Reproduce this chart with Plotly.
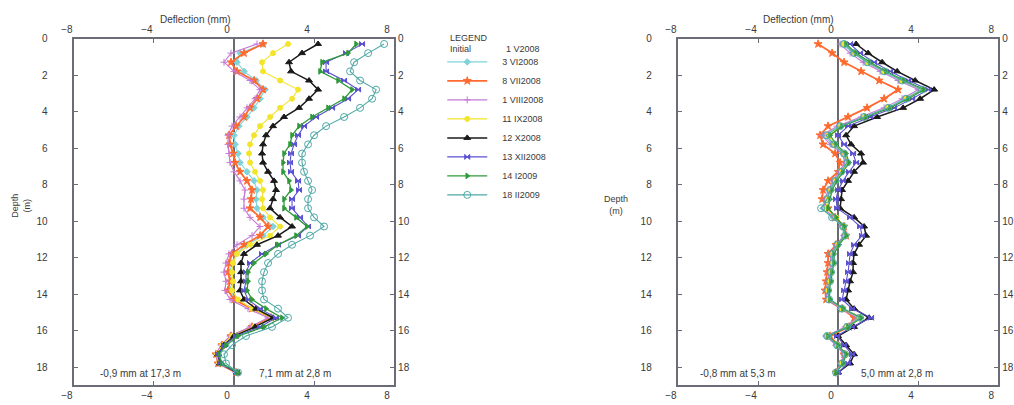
import plotly.graph_objects as go

# Depth of each reading (m)
depth = [0.3, 0.8, 1.3, 1.8, 2.3, 2.8, 3.3, 3.8, 4.3, 4.8, 5.3, 5.8, 6.3, 6.8, 7.3, 7.8,
         8.3, 8.8, 9.3, 9.8, 10.3, 10.8, 11.3, 11.8, 12.3, 12.8, 13.3, 13.8, 14.3, 14.8,
         15.3, 15.8, 16.3, 16.8, 17.3, 17.8, 18.3]

series_names = ["3 VI2008", "8 VII2008", "1 VIII2008", "11 IX2008", "12 X2008",
                "13 XII2008", "14 I2009", "18 II2009"]

# ---- Left inclinometer: deflection (mm) ----
left_3VI2008 = [1.45, 0.3, 0.15, 0.5, 1.1, 1.55, 1.3, 1.0, 0.65, 0.25, 0.0, 0.05, 0.2, 0.3, 0.65, 1.0,
                1.15, 1.1, 1.15, 1.45, 1.95, 1.45, 0.65, 0.1, -0.1, -0.2, -0.1, -0.2, 0.1, 0.9,
                1.8, 1.0, -0.1, -0.5, -0.8, -0.7, 0.1]
left_8VII2008 = [1.45, 0.5, -0.15, 0.15, 1.0, 1.45, 1.15, 0.8, 0.5, 0.1, -0.25, -0.2, -0.05, 0.05, 0.3, 0.65,
                 0.9, 0.85, 0.8, 1.3, 1.7, 1.3, 0.5, -0.1, -0.25, -0.3, -0.2, -0.3, 0.0, 0.9,
                 1.85, 0.9, -0.15, -0.6, -0.9, -0.8, 0.1]
left_1VIII2008 = [1.15, -0.15, -0.5, 0.0, 0.8, 1.3, 1.05, 0.65, 0.3, -0.1, -0.3, -0.3, -0.25, -0.2, 0.0, 0.3,
                  0.55, 0.5, 0.5, 0.8, 1.3, 0.9, 0.15, -0.25, -0.4, -0.5, -0.4, -0.45, -0.2, 0.7,
                  1.7, 0.8, -0.2, -0.65, -0.9, -0.8, 0.1]
left_11IX2008 = [2.7, 1.95, 1.4, 1.45, 2.3, 3.2, 2.9, 2.3, 1.8, 1.3, 1.0, 0.8, 0.75, 0.8, 1.05, 1.3,
                 1.45, 1.4, 1.45, 1.8, 2.3, 1.8, 0.8, 0.15, -0.05, -0.1, -0.05, -0.1, 0.2, 0.9,
                 1.9, 1.0, -0.1, -0.6, -0.85, -0.75, 0.1]
left_12X2008 = [4.2, 3.4, 2.75, 2.85, 3.75, 4.2, 3.75, 3.25, 2.5, 1.95, 1.6, 1.45, 1.4, 1.45, 1.7, 2.0,
                2.1, 1.95, 1.8, 2.3, 2.9, 2.2, 1.15, 0.5, 0.35, 0.35, 0.35, 0.3, 0.5, 1.1,
                1.95, 1.05, 0.0, -0.5, -0.8, -0.7, 0.15]
left_13XII2008 = [6.4, 5.6, 4.6, 4.6, 5.5, 6.2, 5.7, 4.9, 4.1, 3.5, 3.2, 3.0, 2.85, 2.8, 2.85, 3.2,
                  3.25, 2.9, 2.9, 3.3, 3.7, 3.2, 2.2, 1.4, 0.8, 0.6, 0.6, 0.5, 0.7, 1.3,
                  2.1, 1.3, 0.1, -0.5, -0.8, -0.7, 0.15]
left_14I2009 = [6.1, 5.7, 4.4, 4.3, 5.2, 5.9, 5.5, 4.7, 3.9, 3.25, 2.9, 2.8, 2.5, 2.45, 2.45, 2.75,
                2.85, 2.5, 2.5, 3.1, 3.65, 3.1, 2.2, 1.6, 1.0, 0.7, 0.7, 0.65, 0.9, 1.6,
                2.4, 1.5, 0.2, -0.4, -0.75, -0.6, 0.2]
left_18II2009 = [7.5, 6.7, 6.0, 5.8, 6.3, 7.1, 6.9, 6.3, 5.5, 4.6, 4.0, 3.7, 3.4, 3.4, 3.5, 3.7,
                 3.9, 3.7, 3.7, 4.0, 4.5, 3.8, 2.9, 2.2, 1.7, 1.5, 1.4, 1.4, 1.5, 2.2,
                 2.7, 1.9, 0.6, -0.1, -0.5, -0.4, 0.2]

# ---- Right inclinometer: deflection (mm) ----
right_3VI2008 = [0.2, 0.75, 1.4, 2.2, 3.1, 4.1, 3.3, 2.45, 1.3, 0.05, -0.7, -0.3, 0.25, 0.4, 0.1, -0.2,
                 -0.45, -0.6, -0.75, -0.25, 0.2, 0.3, -0.1, -0.35, -0.3, -0.4, -0.45, -0.55, -0.5, 0.15,
                 1.0, 0.4, -0.6, -0.1, 0.3, 0.15, -0.1]
right_8VII2008 = [-1.0, -0.3, 0.3, 1.15, 2.05, 3.0, 2.3, 1.45, 0.5, -0.5, -0.9, -0.75, -0.15, 0.1, 0.0, -0.5,
                  -0.75, -0.8, -0.5, -0.15, 0.3, 0.4, -0.1, -0.5, -0.5, -0.55, -0.6, -0.65, -0.6, 0.2,
                  0.8, 0.55, -0.4, 0.0, 0.3, 0.2, -0.1]
right_1VIII2008 = [0.1, 0.6, 1.25, 2.1, 3.0, 4.0, 3.2, 2.3, 1.15, -0.05, -0.8, -0.4, 0.2, 0.35, 0.05, -0.25,
                   -0.5, -0.65, -0.7, -0.2, 0.25, 0.3, -0.1, -0.4, -0.35, -0.45, -0.5, -0.6, -0.55, 0.1,
                   0.95, 0.35, -0.6, -0.1, 0.3, 0.15, -0.1]
right_11IX2008 = [0.3, 0.85, 1.5, 2.3, 3.2, 4.2, 3.4, 2.5, 1.35, 0.15, -0.5, -0.15, 0.35, 0.5, 0.2, -0.1,
                  -0.35, -0.5, -0.6, -0.1, 0.3, 0.4, 0.0, -0.25, -0.25, -0.35, -0.4, -0.5, -0.45, 0.2,
                  1.05, 0.45, -0.5, 0.0, 0.4, 0.2, -0.1]
right_12X2008 = [0.9, 1.5, 2.2, 2.95, 3.85, 4.8, 4.1, 3.25, 1.95, 0.8, 0.4, 0.65, 1.15, 1.25, 0.8, 0.5,
                 0.2, 0.15, 0.1, 0.8, 1.3, 1.4, 1.05, 0.8, 0.75, 0.75, 0.6, 0.5, 0.4, 0.8,
                 1.55, 0.8, 0.0, 0.4, 0.8, 0.6, 0.0]
right_13XII2008 = [0.6, 1.1, 1.8, 2.6, 3.5, 4.5, 3.7, 2.8, 1.6, 0.5, 0.0, 0.3, 0.75, 0.9, 0.55, 0.25,
                   0.0, -0.1, -0.05, 0.6, 1.1, 1.2, 0.8, 0.6, 0.55, 0.5, 0.4, 0.3, 0.2, 0.7,
                   1.65, 0.7, -0.05, 0.3, 0.7, 0.5, 0.0]
right_14I2009 = [0.4, 0.9, 1.6, 2.4, 3.3, 4.3, 3.5, 2.6, 1.4, 0.2, -0.4, -0.1, 0.4, 0.55, 0.25, -0.05,
                 -0.3, -0.4, -0.5, -0.1, 0.3, 0.4, 0.05, -0.2, -0.2, -0.3, -0.35, -0.45, -0.4, 0.25,
                 1.15, 0.5, -0.5, 0.0, 0.4, 0.25, -0.1]
right_18II2009 = [0.3, 0.8, 1.45, 2.3, 3.2, 4.2, 3.4, 2.5, 1.3, 0.1, -0.6, -0.2, 0.3, 0.45, 0.15, -0.15,
                  -0.4, -0.55, -0.85, -0.3, 0.25, 0.35, -0.05, -0.3, -0.25, -0.35, -0.4, -0.5, -0.45, 0.2,
                  1.1, 0.45, -0.55, -0.05, 0.35, 0.2, -0.1]

left_values = [left_3VI2008, left_8VII2008, left_1VIII2008, left_11IX2008,
               left_12X2008, left_13XII2008, left_14I2009, left_18II2009]
right_values = [right_3VI2008, right_8VII2008, right_1VIII2008, right_11IX2008,
                right_12X2008, right_13XII2008, right_14I2009, right_18II2009]

x_ticks = [-8, -4, 0, 4, 8]
y_ticks = [0, 2, 4, 6, 8, 10, 12, 14, 16, 18]

styles = [
    dict(color="#7fd4da", width=1.1, symbol="diamond", size=5),
    dict(color="#ff6a2e", width=1.8, symbol="star", size=6),
    dict(color="#c47ad6", width=1.1, symbol="cross-thin-open", size=5),
    dict(color="#f2e52c", width=1.1, symbol="circle", size=5),
    dict(color="#1a1a1a", width=1.5, symbol="triangle-up", size=6),
    dict(color="#5a50d0", width=1.1, symbol="bowtie", size=5),
    dict(color="#2f9a3a", width=1.3, symbol="triangle-right", size=5),
    dict(color="#4fa9a6", width=1.1, symbol="circle-open", size=7),
]

fig = go.Figure()
for name, vals, st in zip(series_names, left_values, styles):
    fig.add_trace(go.Scatter(
        x=vals, y=depth, mode="lines+markers", name="\u00a0\u00a0\u00a0\u00a0" + name,
        line=dict(color=st["color"], width=st["width"]),
        marker=dict(symbol=st["symbol"], size=st["size"], color=st["color"],
                    line=dict(color=st["color"], width=1)),
        xaxis="x", yaxis="y", showlegend=True))
for name, vals, st in zip(series_names, right_values, styles):
    fig.add_trace(go.Scatter(
        x=vals, y=depth, mode="lines+markers", name=name,
        line=dict(color=st["color"], width=st["width"]),
        marker=dict(symbol=st["symbol"], size=st["size"], color=st["color"],
                    line=dict(color=st["color"], width=1)),
        xaxis="x2", yaxis="y2", showlegend=False))

# empty helper traces so the mirrored label axes (top / right) get drawn
for xa, ya in [("x3", "y"), ("x", "y3"), ("x4", "y2"), ("x2", "y4")]:
    fig.add_trace(go.Scatter(x=[], y=[], xaxis=xa, yaxis=ya, showlegend=False,
                             hoverinfo="skip"))

W, H = 1014, 405
font = dict(family="Liberation Sans, Arial, sans-serif", size=10, color="#3a3a3a")
axcol = "#6c6c78"
ydom = [20 / H, 372 / H]
xdomL = [62 / W, 388 / W]
xdomR = [677 / W, 1003 / W]

def xax(dom, anchor, side, overlay=None, zl=False):
    d = dict(domain=dom, anchor=anchor, side=side, range=[-8, 8], tickvals=x_ticks,
             ticks="inside", ticklen=4, tickcolor=axcol, showline=True, linewidth=2,
             linecolor=axcol, showgrid=False, zeroline=zl, zerolinecolor="#6a6a72",
             zerolinewidth=2, tickfont=font, fixedrange=True, ticklabelshift=-7)
    if overlay:
        d["overlaying"] = overlay
    return d

def yax(dom, anchor, side, overlay=None, pad=False):
    d = dict(domain=dom, anchor=anchor, side=side, range=[19, 0], tickvals=y_ticks,
             ticks="inside", ticklen=4, tickcolor=axcol, showline=True, linewidth=2,
             linecolor=axcol, showgrid=False, zeroline=False, tickfont=font,
             fixedrange=True)
    if pad:
        d["ticktext"] = [str(v) + "\u00a0" * 8 for v in y_ticks]
    if overlay:
        d["overlaying"] = overlay
    return d

annotations = []
def ann(text, px, py, xanchor="center", size=10, angle=0):
    annotations.append(dict(text=text, x=px / W, y=1 - py / H, xref="paper", yref="paper",
                            xanchor=xanchor, yanchor="middle", showarrow=False,
                            textangle=angle,
                            font=dict(family=font["family"], size=size, color="#3a3a3a")))

ann("Deflection (mm)", 186, 14)
ann("Deflection (mm)", 800, 14)
ann("-0,9 mm at 17,3 m", 130, 373)
ann("7,1 mm at 2,8 m", 287, 373)
ann("-0,8 mm at 5,3 m", 738, 373)
ann("5,0 mm at 2,8 m", 900, 373)
ann("Depth<br>(m)", 614, 202, size=9)
ann("Depth<br>(m)", 8, 203, size=9, angle=-90)
ann("LEGEND", 443, 32, xanchor="left", size=9)
ann("Initial", 443, 44, xanchor="left", size=9)
ann("1 V2008", 500, 44, xanchor="left", size=9)

fig.update_layout(
    width=W, height=H, autosize=False,
    margin=dict(l=0, r=0, t=0, b=0),
    paper_bgcolor="white", plot_bgcolor="white",
    font=font,
    xaxis=xax(xdomL, "y", "bottom", zl=True),
    yaxis=yax(ydom, "x", "left", pad=True),
    xaxis3=xax(xdomL, "y", "top", overlay="x"),
    yaxis3=yax(ydom, "x", "right", overlay="y"),
    xaxis2=xax(xdomR, "y2", "bottom", zl=True),
    yaxis2=yax(ydom, "x2", "left", pad=True),
    xaxis4=xax(xdomR, "y2", "top", overlay="x2"),
    yaxis4=yax(ydom, "x2", "right", overlay="y2"),
    legend=dict(x=437 / W, y=1 - 42 / H, xanchor="left", yanchor="top",
                bgcolor="rgba(0,0,0,0)", itemwidth=40,
                font=dict(family=font["family"], size=9, color="#3a3a3a"),
                tracegroupgap=0),
    annotations=annotations,
    showlegend=True,
)

fig.write_html("out.html", config={"displayModeBar": False},
               post_script="document.body.style.margin='0';")
